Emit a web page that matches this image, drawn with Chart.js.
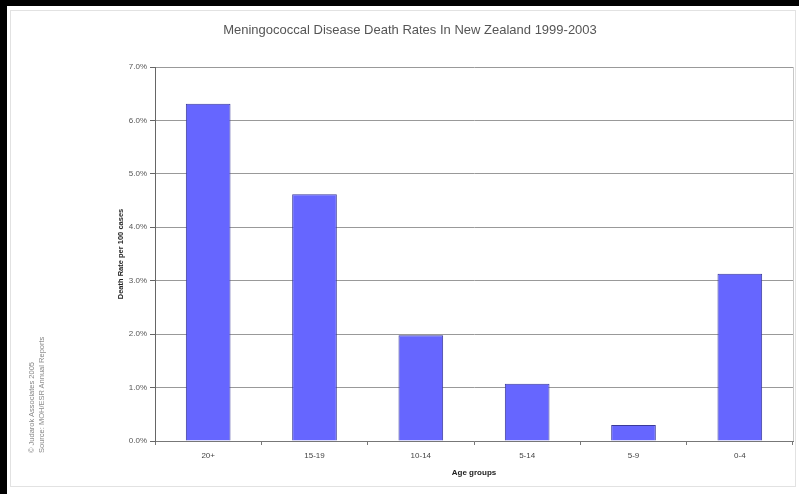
<!DOCTYPE html>
<html>
<head>
<meta charset="utf-8">
<script src="https://cdn.jsdelivr.net/npm/chart.js@4"></script>
<style>
  html, body { margin: 0; padding: 0; background: #fff; }
  #frame {
    position: relative; width: 799px; height: 494px; overflow: hidden;
    background: #fff; font-family: "Liberation Sans", Arial, sans-serif;
  }
  #edge {
    position: absolute; left: 0; top: 0; width: 792px; height: 488px;
    border-left: 7px solid #000; border-top: 6px solid #000;
  }
  #inner {
    position: absolute; left: 10px; top: 10px; width: 784px; height: 475px;
    border: 1px solid #e2e2e2;
  }
  #title {
    position: absolute; left: 0; width: 820px; top: 22px; text-align: center;
    font-size: 13px; color: #555;
  }
  #note {
    position: absolute; left: 27px; top: 453px; transform-origin: 0 0;
    transform: rotate(-90deg); font-size: 7.5px; line-height: 10px;
    color: #888; white-space: nowrap;
  }
  canvas { position: absolute; left: 0; top: 0; }
</style>
</head>
<body>
<div id="frame">
  <div id="edge"></div>
  <div id="inner"></div>
  <canvas id="chart" width="799" height="494"></canvas>
  <div id="title">Meningococcal Disease Death Rates In New Zealand 1999-2003</div>
  <div id="note">© Judarok Associates 2005<br>Source: MOH/ESR Annual Reports</div>
</div>
<script>
// ── Data ─────────────────────────────────────────────
const ageGroups  = ['20+', '15-19', '10-14', '5-14', '5-9', '0-4'];
const deathRates = [6.31, 4.62, 1.98, 1.07, 0.30, 3.13];
const yMax  = 7;
const yStep = 1;

// plot frame on the right edge
const frameLine = {
  id: 'frameLine',
  afterDraw(chart) {
    const { ctx, chartArea: a } = chart;
    ctx.save();
    ctx.strokeStyle = '#c8c8c8';
    ctx.lineWidth = 1;
    ctx.beginPath();
    ctx.moveTo(a.right + 0.5, a.top);
    ctx.lineTo(a.right + 0.5, a.bottom);
    ctx.stroke();
    ctx.restore();
  }
};

new Chart(document.getElementById('chart'), {
  type: 'bar',
  data: {
    labels: ageGroups,
    datasets: [{
      label: 'Death rate',
      data: deathRates,
      backgroundColor: '#6666ff',
      borderColor: '#3a3a9a',
      borderWidth: 1,
      categoryPercentage: 1,
      barPercentage: 0.42
    }]
  },
  options: {
    responsive: false, animation: false,
    layout: { padding: { left: 112, top: 67, right: 6, bottom: 12 } },
    plugins: { legend: { display: false }, tooltip: { enabled: false } },
    scales: {
      x: {
        afterFit: s => { s.height = 41; },
        grid: { drawOnChartArea: false, drawTicks: true, tickLength: 4, color: '#777', offset: true },
        border: { color: '#777' },
        ticks: { color: '#444', font: { family: 'Liberation Sans', size: 8 }, padding: 6 },
        title: { display: true, text: 'Age groups', color: '#222',
                 font: { family: 'Liberation Sans', size: 8, weight: 'bold' }, padding: { top: 4 } }
      },
      y: {
        min: 0, max: yMax,
        afterFit: s => { s.width = 43; },
        grid: { color: '#999', tickLength: 5, tickColor: '#666' },
        border: { color: '#666' },
        ticks: { stepSize: yStep, color: '#555', font: { family: 'Liberation Sans', size: 8 },
                 padding: 3, callback: v => v.toFixed(1) + '%' },
        title: { display: true, text: 'Death Rate per 100 cases', color: '#222',
                 font: { family: 'Liberation Sans', size: 7.5, weight: 'bold' }, padding: { bottom: 6 } }
      }
    }
  },
  plugins: [frameLine]
});
</script>
</body>
</html>
